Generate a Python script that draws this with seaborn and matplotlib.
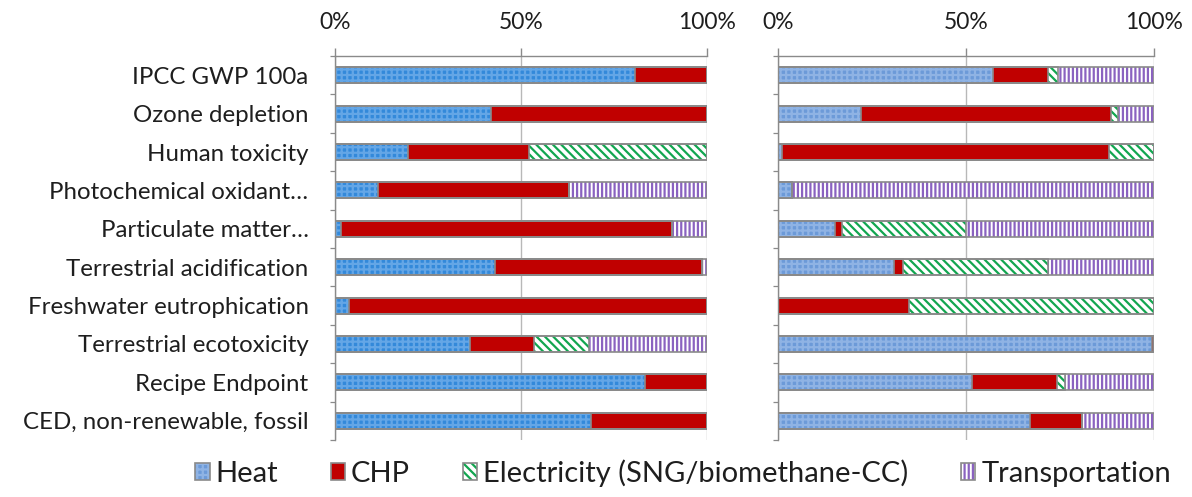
import numpy as np
import pandas as pd
import matplotlib
matplotlib.use("Agg")
import matplotlib.pyplot as plt
import seaborn as sns
from matplotlib.patches import Patch
from matplotlib.ticker import FixedLocator

# ---------------- data ----------------
categories = [
    "IPCC GWP 100a",
    "Ozone depletion",
    "Human toxicity",
    "Photochemical oxidant…",
    "Particulate matter…",
    "Terrestrial acidification",
    "Freshwater eutrophication",
    "Terrestrial ecotoxicity",
    "Recipe Endpoint",
    "CED, non-renewable, fossil",
]
series_names = ["Heat", "CHP", "Electricity (SNG/biomethane-CC)", "Transportation"]

heat_left = [80.6, 41.9, 19.6, 11.6, 1.6, 43.0, 3.8, 36.3, 83.3, 68.7]
chp_left = [19.4, 58.1, 32.6, 51.3, 88.9, 55.6, 96.2, 17.2, 16.7, 31.3]
elec_left = [0.0, 0.0, 47.8, 0.0, 0.0, 0.0, 0.0, 14.9, 0.0, 0.0]
trans_left = [0.0, 0.0, 0.0, 37.1, 9.5, 1.4, 0.0, 31.6, 0.0, 0.0]

heat_right = [57.1, 22.2, 1.1, 3.6, 15.1, 30.9, 0.0, 99.4, 51.6, 67.0]
chp_right = [14.6, 66.5, 86.9, 0.0, 2.0, 2.4, 34.8, 0.6, 22.5, 13.9]
elec_right = [2.8, 1.6, 12.0, 0.0, 32.9, 38.6, 65.2, 0.0, 2.2, 0.0]
trans_right = [25.5, 9.7, 0.0, 96.4, 50.0, 28.1, 0.0, 0.0, 23.7, 19.1]

tick_values = [0, 50, 100]
tick_labels = ["0%", "50%", "100%"]

# ---------------- style ----------------
sns.set_theme(style="white")
plt.rcParams["font.family"] = ["Lato", "DejaVu Sans"]
plt.rcParams["hatch.linewidth"] = 1.6

EDGE = "#8a8a8a"
GRID = "#b8b8b8"
TEXT = "#1e1e1e"

heat_left_style = dict(fc="#3389da", hatch="+++", hc="#64a6e6")
heat_right_style = dict(fc="#6c9ad8", hatch="+++", hc="#8fb3e4")
chp_style = dict(fc="#c00000", hatch="", hc="#c00000")
elec_style = dict(fc="white", hatch="\\\\\\\\", hc="#12a650")
trans_style = dict(fc="white", hatch="||||", hc="#8a62c0")

fig = plt.figure(figsize=(11.92, 4.97), dpi=100)
axL = fig.add_axes([0.2810, 0.1147, 0.3121, 0.7726])
axR = fig.add_axes([0.6527, 0.1147, 0.3154, 0.7726])


def draw_panel(ax, layers, styles, show_labels):
    cum = np.cumsum(np.array(layers, dtype=float), axis=0)
    # filled / hatched layers, from the longest cumulative bar down
    for i in reversed(range(len(layers))):
        st = styles[i]
        df = pd.DataFrame({"category": categories, "value": cum[i]})
        n0 = len(ax.patches)
        sns.barplot(data=df, x="value", y="category", order=categories,
                    orient="h", width=0.42, errorbar=None, color=st["fc"], ax=ax)
        for p in ax.patches[n0:]:
            p.set_facecolor(st["fc"])
            p.set_edgecolor(st["hc"])
            p.set_hatch(st["hatch"] if st["hatch"] else None)
            p.set_linewidth(0)
    # grey outlines of every segment
    for i in range(len(layers)):
        df = pd.DataFrame({"category": categories, "value": cum[i]})
        n0 = len(ax.patches)
        sns.barplot(data=df, x="value", y="category", order=categories,
                    orient="h", width=0.42, errorbar=None, color="white", ax=ax)
        for p in ax.patches[n0:]:
            p.set_facecolor("none")
            p.set_edgecolor(EDGE)
            p.set_linewidth(1.2)

    ax.set_xlim(0, 100)
    ax.set_ylim(len(categories) - 0.5, -0.5)
    ax.set_xlabel("")
    ax.set_ylabel("")
    ax.set_axisbelow(True)
    ax.xaxis.tick_top()
    ax.set_xticks(tick_values)
    ax.set_xticklabels(tick_labels)
    ax.tick_params(axis="x", which="major", top=True, bottom=False,
                   length=5.8, width=1, color=EDGE, pad=11,
                   labelsize=16.5, labelcolor=TEXT)
    ax.xaxis.grid(True, color=GRID, linewidth=1)
    ax.yaxis.grid(False)
    ax.yaxis.set_minor_locator(FixedLocator(np.arange(-0.5, len(categories), 1)))
    ax.tick_params(axis="y", which="minor", left=True, length=3.6,
                   width=0.9, color=EDGE)
    ax.tick_params(axis="y", which="major", left=False, length=0, pad=19,
                   labelsize=17.3, labelcolor=TEXT)
    if not show_labels:
        ax.set_yticklabels([])
    for s in ["right", "bottom"]:
        ax.spines[s].set_visible(False)
    for s in ["top", "left"]:
        ax.spines[s].set_visible(True)
        ax.spines[s].set_color(EDGE)
        ax.spines[s].set_linewidth(1)


draw_panel(axL, [heat_left, chp_left, elec_left, trans_left],
           [heat_left_style, chp_style, elec_style, trans_style], True)
draw_panel(axR, [heat_right, chp_right, elec_right, trans_right],
           [heat_right_style, chp_style, elec_style, trans_style], False)

# ---------------- legend ----------------
leg_styles = [heat_right_style, chp_style, elec_style, trans_style]
handles = []
for st in leg_styles:
    fill = Patch(facecolor=st["fc"], edgecolor=st["hc"], linewidth=0,
                 hatch=st["hatch"] if st["hatch"] else None)
    outline = Patch(facecolor="none", edgecolor=EDGE, linewidth=1.2)
    handles.append((fill, outline))

fig.legend(handles, series_names, loc="center", bbox_to_anchor=(0.573, 0.048),
           ncol=4, frameon=False, fontsize=21, handlelength=0.5,
           handleheight=0.55, handletextpad=0.2, columnspacing=1.8,
           labelcolor=TEXT)

fig.savefig("out.png", dpi=100)
